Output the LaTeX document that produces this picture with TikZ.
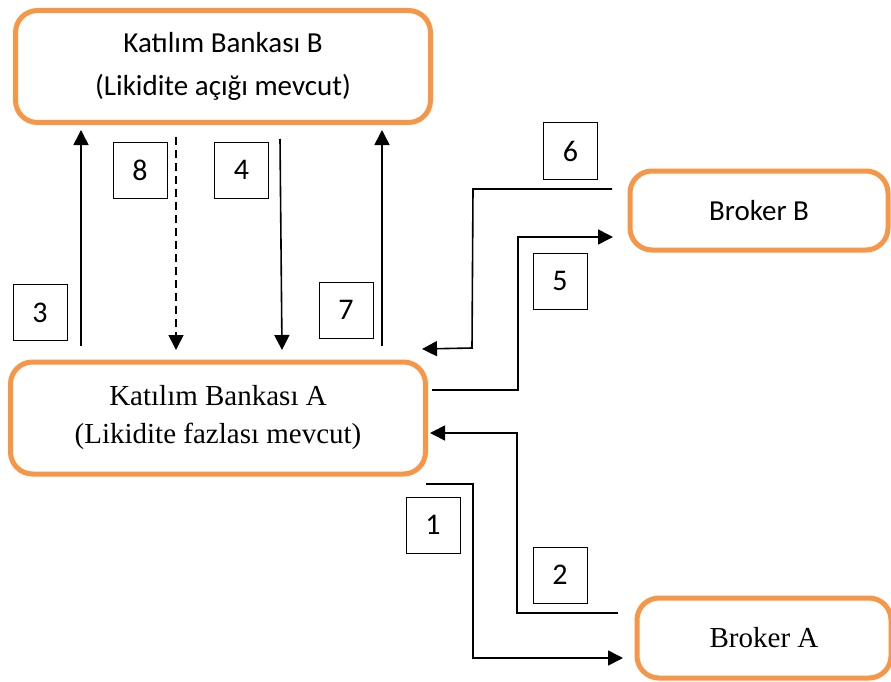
\documentclass[tikz,border=0pt]{standalone}
\usepackage{fontspec}
\setmainfont{Liberation Serif}
\newfontfamily\calib{Carlito}
\usetikzlibrary{arrows.meta}
\definecolor{orng}{HTML}{F79646}
\begin{document}
\begin{tikzpicture}[x=1pt,y=-1pt,
  bank/.style={draw=orng, line width=5pt, rounded corners=22pt, align=center, inner sep=0pt},
  numbox/.style={draw, line width=1pt, minimum width=54pt, minimum height=56pt, inner sep=0pt, font=\calib\fontsize{30}{34}\selectfont},
  arr/.style={line width=1.6pt, -{Triangle[length=15pt,width=15pt]}},
]
\useasboundingbox (0,0) rectangle (891,682);
% boxes
\node[bank, minimum width=415pt, minimum height=112pt, font=\calib\fontsize{29}{43}\selectfont] (bankB) at (223,66.5) {Katılım Bankası B\\(Likidite açığı mevcut)};
\node[bank, minimum width=415pt, minimum height=112pt, font=\fontsize{29}{38}\selectfont] (bankA) at (218,418) {Katılım Bankası A\\(Likidite fazlası mevcut)};
\node[bank, minimum width=258pt, minimum height=79pt, font=\calib\fontsize{29}{35}\selectfont] (brokB) at (759,210.5) {Broker B};
\node[bank, minimum width=254pt, minimum height=80pt, font=\fontsize{29}{35}\selectfont] (brokA) at (764,638) {Broker A};
% number boxes
\node[numbox] (n8) at (140,170) {8};
\node[numbox] (n4) at (241.5,170) {4};
\node[numbox] (n3) at (40,312.5) {3};
\node[numbox] (n7) at (346,310) {7};
\node[numbox] (n6) at (570.5,151) {6};
\node[numbox] (n5) at (560,281) {5};
\node[numbox] (n1) at (433,525) {1};
\node[numbox] (n2) at (560,575) {2};
% connector ends
\coordinate (a3s) at (81,346);  \coordinate (a3e) at (81,130);
\coordinate (a8s) at (176,137); \coordinate (a8e) at (176,350);
\coordinate (a4s) at (280,139); \coordinate (a4e) at (282,350);
\coordinate (a7s) at (382,346); \coordinate (a7e) at (382,130);
\coordinate (a6s) at (612,189); \coordinate (a6e) at (422,349);
\coordinate (a5s) at (432,390); \coordinate (a5e) at (613,237);
\coordinate (a2s) at (618,613); \coordinate (a2e) at (430,433);
\coordinate (a1s) at (426,484); \coordinate (a1e) at (623,658);
% connectors
\draw[arr] (a3s) -- (a3e);
\draw[arr, dash pattern=on 8pt off 5pt] (a8s) -- (a8e);
\draw[arr] (a4s) -- (a4e);
\draw[arr] (a7s) -- (a7e);
\draw[arr] (a6s) -- (473,189) -- (472,348) -- (a6e);
\draw[arr] (a5s) -- (518,390) -- (518,237) -- (a5e);
\draw[arr] (a2s) -- (517,613) -- (517,433) -- (a2e);
\draw[arr] (a1s) -- (473,484) -- (473,658) -- (a1e);
\end{tikzpicture}
\end{document}
